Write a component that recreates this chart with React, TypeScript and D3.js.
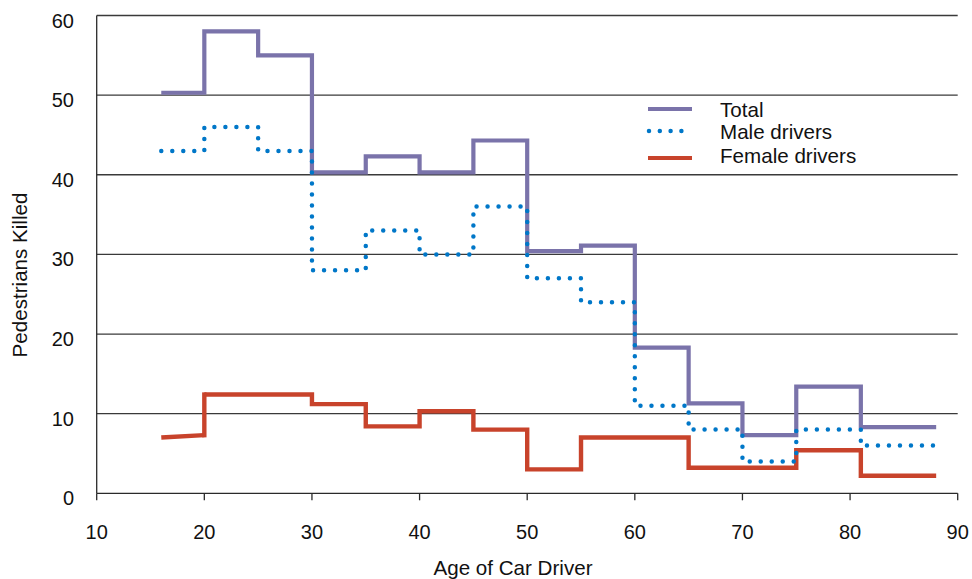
import React from "react";
import * as d3 from "d3";

const binEdges = [16, 20, 25, 30, 35, 40, 45, 50, 55, 60, 65, 70, 75, 81, 88];
const totalValues = [50.3, 58, 55, 40.3, 42.3, 40.3, 44.3, 30.4, 31.1, 18.3, 11.3, 7.3, 13.4, 8.3];
const maleValues = [43, 46, 43, 28, 33, 30, 36, 27, 24, 11, 8, 4, 8, 6];
const femaleValues = [7.0, 12.4, 12.4, 11.2, 8.4, 10.3, 8.0, 3.0, 7.0, 7.0, 3.2, 3.2, 5.4, 2.2];
const femaleFirstBinEnd = 7.3;

const xTicks = [10, 20, 30, 40, 50, 60, 70, 80, 90];
const yTicks = [0, 10, 20, 30, 40, 50, 60];

const seriesNames = ["Total", "Male drivers", "Female drivers"];

const W = 972;
const H = 579;
const FONT = "'Liberation Sans', Arial, Helvetica, sans-serif";

const COLORS = {
  total: "#7A73AA",
  male: "#0077C8",
  female: "#C8432B",
};

export default function App() {
  const x = d3.scaleLinear().domain([10, 90]).range([96.7, 957.7]);
  const y = d3.scaleLinear().domain([0, 60]).range([493.3, 15.5]);

  const toPoints = (vals: number[]) => {
    const pts: [number, number][] = vals.map((v, i) => [binEdges[i], v]);
    pts.push([binEdges[binEdges.length - 1], vals[vals.length - 1]]);
    return pts;
  };

  const line = d3
    .line<[number, number]>()
    .x((d) => x(d[0]))
    .y((d) => y(d[1]))
    .curve(d3.curveStepAfter);

  const lineLinear = d3
    .line<[number, number]>()
    .x((d) => x(d[0]))
    .y((d) => y(d[1]));

  const totalPath = line(toPoints(totalValues)) || "";
  const malePath = line(toPoints(maleValues)) || "";
  // female: first bin drawn as a slightly sloped segment, rest as steps
  const femaleRest = toPoints(femaleValues.slice(1)).map(
    (p, i) => [i === femaleValues.length - 1 ? p[0] : binEdges[i + 1], p[1]] as [number, number]
  );
  femaleRest[femaleRest.length - 1] = [binEdges[binEdges.length - 1], femaleValues[femaleValues.length - 1]];
  const femaleFirst = lineLinear([
    [binEdges[0], femaleValues[0]],
    [binEdges[1], femaleFirstBinEnd],
  ]) || "";
  const femaleRestPath = line(femaleRest) || "";
  const femaleJoin = lineLinear([
    [binEdges[1], femaleFirstBinEnd],
    [binEdges[1], femaleValues[1]],
  ]) || "";

  const legendX1 = 648;
  const legendX2 = 692;
  const legendTextX = 720;
  const legendRows = [
    { name: seriesNames[0], ly: 109, ty: 116.5, color: COLORS.total, dotted: false },
    { name: seriesNames[1], ly: 131, ty: 138.5, color: COLORS.male, dotted: true },
    { name: seriesNames[2], ly: 158, ty: 162.5, color: COLORS.female, dotted: false },
  ];

  const fs = 20.6;

  return (
    <svg
      width={W}
      height={H}
      style={{ position: "absolute", left: 0, top: 0, background: "#fff" }}
      fontFamily={FONT}
    >
      <rect x={0} y={0} width={W} height={H} fill="#fff" />
      {yTicks
        .filter((t) => t > 0)
        .map((t) => (
          <line
            key={"g" + t}
            x1={x(10)}
            x2={x(90)}
            y1={y(t)}
            y2={y(t)}
            stroke="#3a3a3a"
            strokeWidth={1.3}
          />
        ))}
      <line x1={x(10)} x2={x(10)} y1={y(60)} y2={y(0)} stroke="#2a2a2a" strokeWidth={1.3} />
      <line x1={x(10)} x2={x(90)} y1={y(0)} y2={y(0)} stroke="#2a2a2a" strokeWidth={1.3} />
      {xTicks.map((t) => (
        <g key={"xt" + t}>
          <line x1={x(t)} x2={x(t)} y1={y(0)} y2={y(0) + 7} stroke="#2a2a2a" strokeWidth={1.3} />
          <text x={x(t)} y={539} textAnchor="middle" fontSize={20} fill="#111">
            {t}
          </text>
        </g>
      ))}
      {yTicks.map((t) => (
        <text key={"yt" + t} x={74} y={y(t) + 12} textAnchor="end" fontSize={20} fill="#111">
          {t}
        </text>
      ))}
      <text x={513} y={575} textAnchor="middle" fontSize={fs} fill="#111">
        Age of Car Driver
      </text>
      <text
        transform="translate(26.5,275) rotate(-90)"
        textAnchor="middle"
        fontSize={fs}
        fill="#111"
      >
        Pedestrians Killed
      </text>

      <path d={totalPath} fill="none" stroke={COLORS.total} strokeWidth={4.2} strokeLinejoin="miter" />
      <path d={femaleFirst} fill="none" stroke={COLORS.female} strokeWidth={4.4} />
      <path d={femaleJoin} fill="none" stroke={COLORS.female} strokeWidth={4.4} strokeLinecap="square" />
      <path d={femaleRestPath} fill="none" stroke={COLORS.female} strokeWidth={4.4} strokeLinejoin="miter" />
      <path
        d={malePath}
        fill="none"
        stroke={COLORS.male}
        strokeWidth={4.5}
        strokeLinecap="round"
        strokeDasharray="0 11"
      />

      {legendRows.map((r) => (
        <g key={r.name}>
          {r.dotted ? (
            <line
              x1={legendX1 + 1}
              x2={legendX2}
              y1={r.ly}
              y2={r.ly}
              stroke={r.color}
              strokeWidth={4.5}
              strokeLinecap="round"
              strokeDasharray="0 10.8"
            />
          ) : (
            <line x1={legendX1} x2={legendX2} y1={r.ly} y2={r.ly} stroke={r.color} strokeWidth={4.2} />
          )}
          <text x={legendTextX} y={r.ty} fontSize={fs} fill="#111">
            {r.name}
          </text>
        </g>
      ))}
    </svg>
  );
}
